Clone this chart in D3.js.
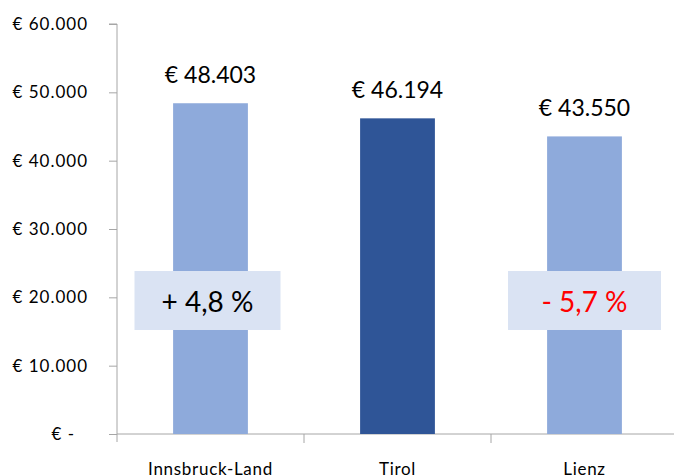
<!DOCTYPE html>
<html>
<head>
<meta charset="utf-8">
<script src="https://cdn.jsdelivr.net/npm/d3@7"></script>
<style>
  body { margin: 0; background: #fff; }
  text { font-family: Lato, "Open Sans", sans-serif; }
</style>
</head>
<body>
<div id="chart"></div>
<script>
const width = 674;
const height = 476;

const margin = { top: 24, left: 117, bottom: 42, right: -4 };

// data
const categories = ["Innsbruck-Land", "Tirol", "Lienz"];
const values = [48403, 46194, 43550];
const barColors = ["#8eaadb", "#2f5597", "#8eaadb"];
const yTicks = [0, 10000, 20000, 30000, 40000, 50000, 60000];
const diffLabels = ["+ 4,8 %", null, "- 5,7 %"];
const diffColors = ["#000000", null, "#ff0000"];

const fmt = d3.formatLocale({ decimal: ",", thousands: ".", grouping: [3], currency: ["€ ", ""] }).format(",.0f");
const euro = v => v === 0 ? "€ -" : "€ " + fmt(v);

const xScale = d3.scaleBand()
    .domain(categories)
    .range([margin.left, width - margin.right])
    .paddingInner(0.6)
    .paddingOuter(0.3);

// band for the axis ticks (no padding)
const xAxisScale = d3.scaleBand()
    .domain(categories)
    .range([margin.left, width - margin.right]);

const yScale = d3.scaleLinear()
    .domain([0, 60000])
    .range([height - margin.bottom, margin.top]);

const svg = d3.select("#chart").append("svg")
    .attr("width", width).attr("height", height);

// y axis
const yAxis = d3.axisLeft(yScale).tickValues(yTicks).tickSize(8).tickPadding(21).tickFormat(euro);
const gy = svg.append("g").attr("transform", `translate(${margin.left},0)`).call(yAxis);
gy.select(".domain").attr("stroke", "#a6a6a6").attr("d", `M-8,${yScale(60000)}H0V${yScale(0) + 8}`);
gy.selectAll(".tick line").attr("stroke", "#a6a6a6");
gy.selectAll(".tick text").attr("font-size", 17).attr("fill", "#000")
    .attr("letter-spacing", 1)
    .attr("dx", d => d === 0 ? -13 : 0);

// x axis
const x0 = yScale(0);
svg.append("line")
    .attr("x1", margin.left).attr("x2", width)
    .attr("y1", x0).attr("y2", x0)
    .attr("stroke", "#a6a6a6");
svg.selectAll(".xtick")
    .data(categories.slice(1).concat(["end"]))
    .enter().append("line")
    .attr("x1", (d, i) => margin.left + xAxisScale.step() * (i + 1))
    .attr("x2", (d, i) => margin.left + xAxisScale.step() * (i + 1))
    .attr("y1", x0).attr("y2", x0 + 9)
    .attr("stroke", "#a6a6a6");

svg.selectAll(".cat")
    .data(categories)
    .enter().append("text")
    .attr("x", d => xScale(d) + xScale.bandwidth() / 2)
    .attr("y", 475)
    .attr("text-anchor", "middle")
    .attr("font-size", 17)
    .attr("letter-spacing", 0.7)
    .text(d => d);

// bars
svg.selectAll(".bar")
    .data(values)
    .enter().append("rect")
    .attr("x", (d, i) => xScale(categories[i]))
    .attr("width", xScale.bandwidth())
    .attr("y", d => yScale(d))
    .attr("height", d => yScale(0) - yScale(d))
    .attr("fill", (d, i) => barColors[i]);

// value labels
svg.selectAll(".val")
    .data(values)
    .enter().append("text")
    .attr("x", (d, i) => xScale(categories[i]) + xScale.bandwidth() / 2)
    .attr("y", d => yScale(d) - 20)
    .attr("text-anchor", "middle")
    .attr("font-size", 23)
    .text(d => euro(d));

// percentage boxes
const boxW = [146, 0, 153];
diffLabels.forEach((lbl, i) => {
    if (!lbl) return;
    const cx = xScale(categories[i]) + xScale.bandwidth() / 2 - (i === 0 ? 3 : 0);
    svg.append("rect")
        .attr("x", cx - boxW[i] / 2).attr("y", 271)
        .attr("width", boxW[i]).attr("height", 59)
        .attr("fill", "#dae3f3");
    svg.append("text")
        .attr("x", cx).attr("y", 312)
        .attr("text-anchor", "middle")
        .attr("font-size", 28)
        .attr("fill", diffColors[i])
        .text(lbl);
});
</script>
</body>
</html>
